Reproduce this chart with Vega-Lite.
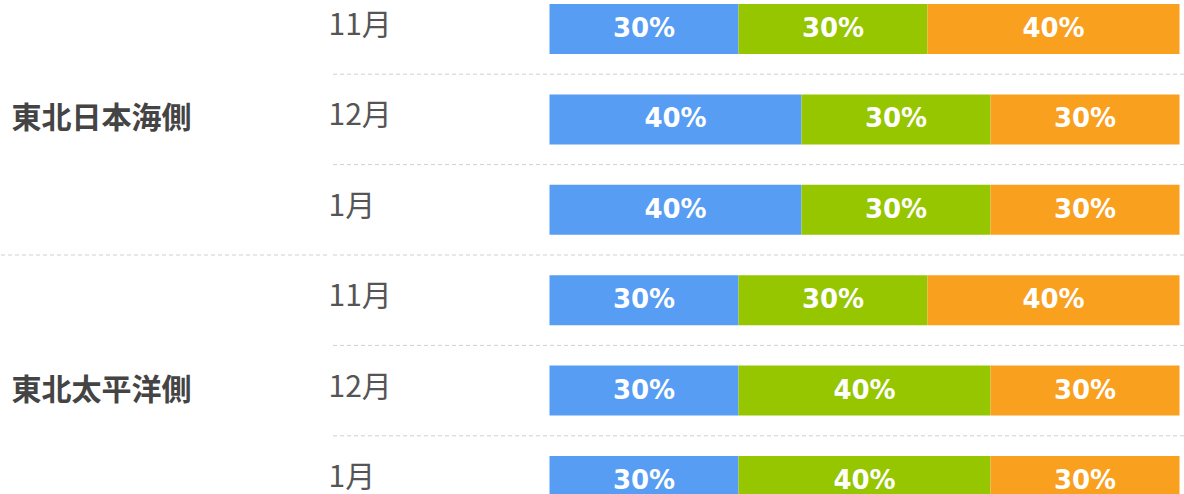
{
  "$schema": "https://vega.github.io/schema/vega-lite/v6.json",
  "padding": 0,
  "background": "white",
  "spacing": 0,
  "config": {"view": {"stroke": null}},
  "data": {
    "values": [
      {"region": "東北日本海側", "month": "11月", "key": "東北日本海側|11月", "cat": "少ない", "rank": 1, "v": 0.3},
      {"region": "東北日本海側", "month": "11月", "key": "東北日本海側|11月", "cat": "平年並", "rank": 2, "v": 0.3},
      {"region": "東北日本海側", "month": "11月", "key": "東北日本海側|11月", "cat": "多い", "rank": 3, "v": 0.4},
      {"region": "東北日本海側", "month": "12月", "key": "東北日本海側|12月", "cat": "少ない", "rank": 1, "v": 0.4},
      {"region": "東北日本海側", "month": "12月", "key": "東北日本海側|12月", "cat": "平年並", "rank": 2, "v": 0.3},
      {"region": "東北日本海側", "month": "12月", "key": "東北日本海側|12月", "cat": "多い", "rank": 3, "v": 0.3},
      {"region": "東北日本海側", "month": "1月", "key": "東北日本海側|1月", "cat": "少ない", "rank": 1, "v": 0.4},
      {"region": "東北日本海側", "month": "1月", "key": "東北日本海側|1月", "cat": "平年並", "rank": 2, "v": 0.3},
      {"region": "東北日本海側", "month": "1月", "key": "東北日本海側|1月", "cat": "多い", "rank": 3, "v": 0.3},
      {"region": "東北太平洋側", "month": "11月", "key": "東北太平洋側|11月", "cat": "少ない", "rank": 1, "v": 0.3},
      {"region": "東北太平洋側", "month": "11月", "key": "東北太平洋側|11月", "cat": "平年並", "rank": 2, "v": 0.3},
      {"region": "東北太平洋側", "month": "11月", "key": "東北太平洋側|11月", "cat": "多い", "rank": 3, "v": 0.4},
      {"region": "東北太平洋側", "month": "12月", "key": "東北太平洋側|12月", "cat": "少ない", "rank": 1, "v": 0.3},
      {"region": "東北太平洋側", "month": "12月", "key": "東北太平洋側|12月", "cat": "平年並", "rank": 2, "v": 0.4},
      {"region": "東北太平洋側", "month": "12月", "key": "東北太平洋側|12月", "cat": "多い", "rank": 3, "v": 0.3},
      {"region": "東北太平洋側", "month": "1月", "key": "東北太平洋側|1月", "cat": "少ない", "rank": 1, "v": 0.3},
      {"region": "東北太平洋側", "month": "1月", "key": "東北太平洋側|1月", "cat": "平年並", "rank": 2, "v": 0.4},
      {"region": "東北太平洋側", "month": "1月", "key": "東北太平洋側|1月", "cat": "多い", "rank": 3, "v": 0.3}
    ]
  },
  "resolve": {"scale": {"y": "independent", "x": "independent"}},
  "hconcat": [
    {
      "width": 326,
      "height": 494,
      "transform": [{"filter": "datum.rank == 1 && datum.key == '東北太平洋側|11月'"}],
      "mark": {"type": "rule", "strokeDash": [4, 3], "color": "#d0d0d0", "strokeWidth": 1, "yOffset": -20.2},
      "encoding": {
        "y": {
          "field": "key", "type": "nominal", "bandPosition": 0,
          "scale": {"domain": ["東北日本海側|11月", "東北日本海側|12月", "東北日本海側|1月", "東北太平洋側|11月", "東北太平洋側|12月", "東北太平洋側|1月"], "range": [4, 506], "paddingInner": 0.447, "paddingOuter": 0},
          "axis": {"title": null, "domain": false, "ticks": false, "tickSize": 0, "grid": false, "labelAlign": "left", "labelPadding": -10, "labelOffset": 0, "labelLimit": 0,
                   "labelExpr": "split(datum.value,'|')[1] == '12月' ? split(datum.value,'|')[0] : ''",
                   "labelFont": "Noto Sans CJK JP", "labelFontSize": 30, "labelFontWeight": "bold", "labelColor": "#444444"}
        }
      }
    },
    {
      "width": 854,
      "height": 494,
      "layer": [
        {
          "transform": [{"filter": "datum.rank == 1 && datum.key != '東北日本海側|11月'"}],
          "mark": {"type": "rule", "strokeDash": [4, 3], "color": "#d0d0d0", "strokeWidth": 1, "yOffset": -20.2},
          "encoding": {
            "y": {
              "field": "key", "type": "nominal", "bandPosition": 0,
              "scale": {"domain": ["東北日本海側|11月", "東北日本海側|12月", "東北日本海側|1月", "東北太平洋側|11月", "東北太平洋側|12月", "東北太平洋側|1月"], "range": [4, 506], "paddingInner": 0.447, "paddingOuter": 0},
              "axis": {"title": null, "domain": false, "ticks": false, "tickSize": 0, "grid": false, "labelAlign": "left", "labelPadding": 2, "labelOffset": -3, "labelLimit": 0,
                       "labelExpr": "split(datum.value,'|')[1]",
                       "labelFont": "Noto Sans CJK JP", "labelFontSize": 30, "labelFontWeight": "normal", "labelColor": "#555555"}
            }
          }
        },
        {
          "mark": {"type": "bar", "clip": true},
          "encoding": {
            "y": {
              "field": "key", "type": "nominal",
              "scale": {"domain": ["東北日本海側|11月", "東北日本海側|12月", "東北日本海側|1月", "東北太平洋側|11月", "東北太平洋側|12月", "東北太平洋側|1月"], "range": [4, 506], "paddingInner": 0.447, "paddingOuter": 0},
              "axis": {"title": null, "domain": false, "ticks": false, "tickSize": 0, "grid": false, "labelAlign": "left", "labelPadding": 2, "labelOffset": -3, "labelLimit": 0,
                       "labelExpr": "split(datum.value,'|')[1]",
                       "labelFont": "Noto Sans CJK JP", "labelFontSize": 30, "labelFontWeight": "normal", "labelColor": "#555555"}
            },
            "x": {"field": "v", "type": "quantitative", "stack": "zero", "scale": {"domain": [0, 1], "range": [219.5, 849.5]}, "axis": null},
            "color": {"field": "cat", "type": "nominal", "scale": {"domain": ["少ない", "平年並", "多い"], "range": ["#569df3", "#95c600", "#f9a01f"]}, "legend": null},
            "order": {"field": "rank", "type": "quantitative"}
          }
        },
        {
          "mark": {"type": "text", "font": "DejaVu Sans", "fontSize": 26, "fontWeight": "bold", "color": "white", "baseline": "middle", "align": "center", "dy": 0, "clip": true},
          "encoding": {
            "y": {
              "field": "key", "type": "nominal",
              "scale": {"domain": ["東北日本海側|11月", "東北日本海側|12月", "東北日本海側|1月", "東北太平洋側|11月", "東北太平洋側|12月", "東北太平洋側|1月"], "range": [4, 506], "paddingInner": 0.447, "paddingOuter": 0},
              "axis": {"title": null, "domain": false, "ticks": false, "tickSize": 0, "grid": false, "labelAlign": "left", "labelPadding": 2, "labelOffset": -3, "labelLimit": 0,
                       "labelExpr": "split(datum.value,'|')[1]",
                       "labelFont": "Noto Sans CJK JP", "labelFontSize": 30, "labelFontWeight": "normal", "labelColor": "#555555"}
            },
            "x": {"field": "v", "type": "quantitative", "stack": "zero", "bandPosition": 0.5, "scale": {"domain": [0, 1], "range": [219.5, 849.5]}, "axis": null},
            "detail": {"field": "cat", "type": "nominal"},
            "order": {"field": "rank", "type": "quantitative"},
            "text": {"field": "v", "type": "quantitative", "format": ".0%"}
          }
        }
      ]
    }
  ]
}
